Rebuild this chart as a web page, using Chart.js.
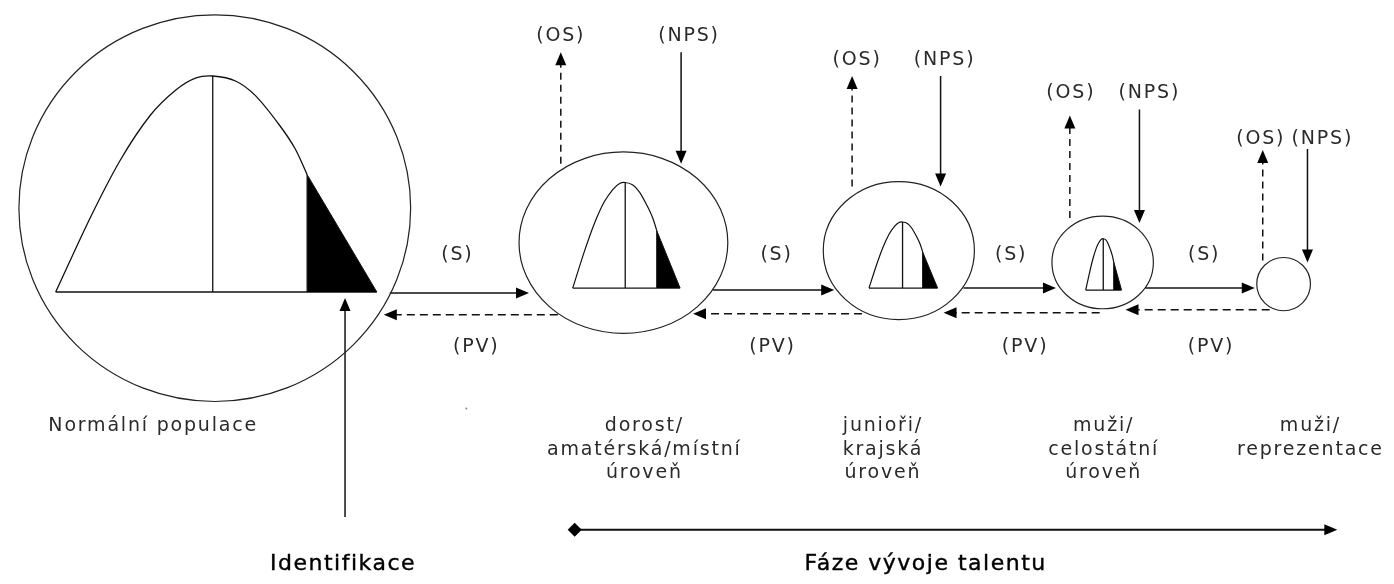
<!DOCTYPE html>
<html>
<head>
<meta charset="utf-8">
<script src="https://cdn.jsdelivr.net/npm/chart.js@4/dist/chart.umd.min.js"></script>
<style>
  html, body { margin: 0; background: #fff; }
  #wrap { width: 1394px; height: 584px; position: relative; }
</style>
</head>
<body>
<div id="wrap"><canvas id="talent"></canvas></div>
<script>
// all values are in axis units of the 1394 x 584 frame (y axis runs downwards)

// stage circles
const circleCx = [212, 623, 900, 1105, 1287];
const circleCy = [207, 242, 250, 262, 284];
const circleRx = [197, 105, 76, 51, 27];
const circleRy = [196, 92, 70, 47, 27];

// distribution curves inside the circles
const curveLeft = [52, 572, 870, 1088];
const curveRight = [375, 680, 939, 1124];
const curveBase = [292, 288, 288, 290];
const curveTop = [73, 181, 221, 238];
// shared curve profile (0..1 across, 0..1 up); the last two points bound the black tail
const profileU = [0, 0.108, 0.201, 0.294, 0.375, 0.437, 0.489, 0.56, 0.622, 0.697, 0.746, 0.783, 1];
const profileV = [0, 0.345, 0.61, 0.817, 0.936, 0.991, 1, 0.977, 0.909, 0.772, 0.662, 0.543, 0];
const medianU = 0.489;

// selection (S) arrows, solid, pointing right
const sFrom = [388, 713, 965, 1148];
const sTo = [528, 835, 1058, 1258];
const sY = [293, 290, 288, 288];
const sLabelX = [456, 777, 1013, 1207];
const sLabelY = 255;

// drop-out (PV) arrows, dashed, pointing left
const pvFrom = [557, 863, 1102, 1273];
const pvTo = [382, 693, 945, 1128];
const pvY = [315, 314, 313, 310];
const pvLabelX = [475, 773, 1027, 1214];
const pvLabelY = 348;

// (OS) arrows, dashed, pointing up
const osX = [560, 853, 1072, 1266];
const osFrom = [162, 185, 217, 260];
const osTo = [49, 73, 113, 148];
const osLabelX = [560, 858, 1073, 1264];

// (NPS) arrows, solid, pointing down
const npsX = [681, 942, 1142, 1311];
const npsFrom = [49, 73, 107, 147];
const npsTo = [162, 185, 222, 262];
const npsLabelX = [689, 946, 1152, 1326];
const topLabelY = [33, 57, 90, 137];

// identification arrow and development timeline
const identArrow = { x: 343, from: 520, to: 298 };
const timeline = { y: 533, from: 574, to: 1341 };
const strayDot = [465, 410];

// stage captions
const stageLines = [
  ["Normální populace"],
  ["dorost/", "amatérská/místní", "úroveň"],
  ["junioři/", "krajská", "úroveň"],
  ["muži/", "celostátní", "úroveň"],
  ["muži/", "reprezentace"],
];
const stageTextX = [150, 644, 884, 1106, 1314];
const stageTextY = [428, 452, 476];
const bottomTitles = ["Identifikace", "Fáze vývoje talentu"];
const bottomTitleX = [341, 927];
const bottomTitleY = 568;

const ink = "#111";
const line = (data, extra = {}) => ({
  data,
  borderColor: ink,
  borderWidth: 1.5,
  pointRadius: 0,
  fill: false,
  tension: 0,
  ...extra,
});

const datasets = [];
const arrows = [];

curveLeft.forEach((x0, i) => {
  const w = curveRight[i] - x0;
  const h = curveBase[i] - curveTop[i];
  const pts = profileU.map((u, k) => ({ x: x0 + u * w, y: curveBase[i] - profileV[k] * h }));
  const n = pts.length;
  datasets.push(line(pts.slice(n - 2), {
    borderWidth: 1, fill: { value: curveBase[i] }, backgroundColor: "#000",
  }));
  datasets.push(line(pts.slice(0, n - 1), { tension: 0.3, borderWidth: i === 0 ? 1.3 : 1.2 }));
  datasets.push(line([{ x: x0, y: curveBase[i] }, { x: curveRight[i], y: curveBase[i] }], { borderWidth: 1.3 }));
  datasets.push(line([{ x: x0 + medianU * w, y: curveBase[i] }, { x: x0 + medianU * w, y: curveTop[i] }], { borderWidth: 1.3 }));
  datasets.push(line([{ x: pts[n - 2].x, y: curveBase[i] }, pts[n - 2]], { borderWidth: 1.3 }));
});

sFrom.forEach((x, i) => {
  datasets.push(line([{ x, y: sY[i] }, { x: sTo[i] - 4, y: sY[i] }]));
  arrows.push({ x1: x, y1: sY[i], x2: sTo[i], y2: sY[i] });
});
pvFrom.forEach((x, i) => {
  datasets.push(line([{ x, y: pvY[i] }, { x: pvTo[i] + 4, y: pvY[i] }], { borderDash: [8, 5] }));
  arrows.push({ x1: x, y1: pvY[i], x2: pvTo[i], y2: pvY[i] });
});
osX.forEach((x, i) => {
  datasets.push(line([{ x, y: osFrom[i] }, { x, y: osTo[i] + 4 }], { borderDash: [7, 5] }));
  arrows.push({ x1: x, y1: osFrom[i], x2: x, y2: osTo[i] });
});
npsX.forEach((x, i) => {
  datasets.push(line([{ x, y: npsFrom[i] }, { x, y: npsTo[i] - 4 }]));
  arrows.push({ x1: x, y1: npsFrom[i], x2: x, y2: npsTo[i] });
});
datasets.push(line([{ x: identArrow.x, y: identArrow.from }, { x: identArrow.x, y: identArrow.to + 4 }]));
arrows.push({ x1: identArrow.x, y1: identArrow.from, x2: identArrow.x, y2: identArrow.to });
datasets.push(line([{ x: timeline.from, y: timeline.y }, { x: timeline.to - 4, y: timeline.y }], { borderWidth: 2 }));
arrows.push({ x1: timeline.from, y1: timeline.y, x2: timeline.to, y2: timeline.y });
datasets.push(line([{ x: strayDot[0], y: strayDot[1] }], { pointRadius: 1, pointBackgroundColor: "#888", pointBorderWidth: 0 }));

const diagramPlugin = {
  id: "diagram",
  afterDatasetsDraw(chart) {
    const { ctx, scales: { x, y } } = chart;
    ctx.save();
    // stage circles
    ctx.strokeStyle = "#222";
    ctx.lineWidth = 1.2;
    circleCx.forEach((cx, i) => {
      const px = x.getPixelForValue(cx);
      const py = y.getPixelForValue(circleCy[i]);
      const rx = Math.abs(x.getPixelForValue(cx + circleRx[i]) - px);
      const ry = Math.abs(y.getPixelForValue(circleCy[i] + circleRy[i]) - py);
      ctx.beginPath();
      ctx.ellipse(px, py, rx, ry, 0, 0, Math.PI * 2);
      ctx.stroke();
    });
    // arrow heads
    ctx.fillStyle = "#000";
    arrows.forEach((a) => {
      const x1 = x.getPixelForValue(a.x1), y1 = y.getPixelForValue(a.y1);
      const x2 = x.getPixelForValue(a.x2), y2 = y.getPixelForValue(a.y2);
      const ang = Math.atan2(y2 - y1, x2 - x1);
      const len = 13, half = 5.5;
      ctx.save();
      ctx.translate(x2, y2);
      ctx.rotate(ang);
      ctx.beginPath();
      ctx.moveTo(0, 0);
      ctx.lineTo(-len, -half);
      ctx.lineTo(-len, half);
      ctx.closePath();
      ctx.fill();
      ctx.restore();
    });
    // diamond at timeline start
    const dx = x.getPixelForValue(timeline.from), dy = y.getPixelForValue(timeline.y);
    ctx.beginPath();
    ctx.moveTo(dx - 7, dy);
    ctx.lineTo(dx, dy - 7);
    ctx.lineTo(dx + 7, dy);
    ctx.lineTo(dx, dy + 7);
    ctx.closePath();
    ctx.fill();

    // texts
    ctx.textAlign = "center";
    ctx.textBaseline = "middle";
    const put = (txt, vx, vy) => ctx.fillText(txt, x.getPixelForValue(vx), y.getPixelForValue(vy));
    ctx.font = '19px "DejaVu Sans"';
    ctx.letterSpacing = "1.8px";
    ctx.fillStyle = "#2a2a2a";
    osLabelX.forEach((vx, i) => put("(OS)", vx, topLabelY[i]));
    npsLabelX.forEach((vx, i) => put("(NPS)", vx, topLabelY[i]));
    sLabelX.forEach((vx) => put("(S)", vx, sLabelY));
    pvLabelX.forEach((vx) => put("(PV)", vx, pvLabelY));
    stageLines.forEach((rows, i) => rows.forEach((t, r) => put(t, stageTextX[i], stageTextY[r])));
    ctx.font = '22px "DejaVu Sans"';
    ctx.letterSpacing = "1.5px";
    ctx.fillStyle = "#000";
    ctx.strokeStyle = "#000";
    ctx.lineWidth = 0.4;
    bottomTitles.forEach((t, i) => {
      put(t, bottomTitleX[i], bottomTitleY);
      ctx.strokeText(t, x.getPixelForValue(bottomTitleX[i]), y.getPixelForValue(bottomTitleY));
    });
    ctx.restore();
  },
};

new Chart(document.getElementById("talent"), {
  type: "line",
  data: { datasets },
  options: {
    responsive: true,
    maintainAspectRatio: false,
    animation: false,
    events: [],
    layout: { padding: 0 },
    plugins: { legend: { display: false }, tooltip: { enabled: false } },
    scales: {
      x: { type: "linear", min: 0, max: 1394, display: false },
      y: { type: "linear", min: 0, max: 584, reverse: true, display: false },
    },
  },
  plugins: [diagramPlugin],
});
</script>
</body>
</html>
